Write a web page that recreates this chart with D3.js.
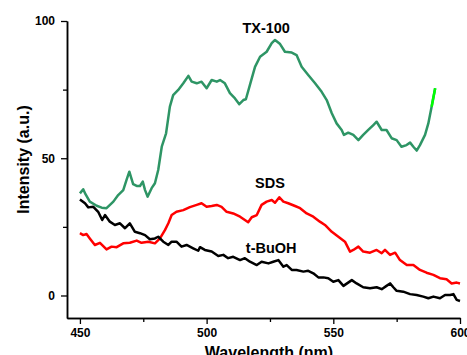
<!DOCTYPE html>
<html>
<head>
<meta charset="utf-8">
<script src="https://cdn.jsdelivr.net/npm/d3@7"></script>
<style>
  body { margin: 0; background: #fff; }
  svg text { font-family: "Liberation Sans", Arial, sans-serif; font-weight: bold; }
</style>
</head>
<body>
<div id="chart"></div>
<script>
// wavelength (nm), intensity (a.u.) pairs
const tx100 = [
  [450, 37.2], [451.3, 38.7], [452.2, 36.9], [453.9, 34.2], [456.6, 32.7], [458.6, 32.0],
  [460.5, 31.8], [463.2, 34.2], [465.1, 36.6], [467.1, 38.4], [468.4, 42.1], [469.5, 45.1],
  [471, 40.6], [472.4, 39.9], [473.7, 39.9], [474.8, 41.5], [475.7, 38.4], [476.7, 36.0],
  [478.3, 39.1], [479.6, 40.9], [480.9, 45.7], [482.3, 54.2], [484, 59.1], [485.5, 68.8],
  [486.8, 73.0], [488.8, 74.9], [490.8, 77.3], [492.8, 80.0], [494.1, 77.9], [496.1, 77.3],
  [498, 77.9], [500, 75.5], [502, 78.5], [504, 77.9], [505.3, 78.5], [507.2, 77.3],
  [509.2, 73.7], [511.2, 71.8], [512.9, 69.7], [514.5, 71.2], [515.5, 71.5], [517.1, 76.7],
  [519.1, 83.3], [521.1, 87.0], [523.7, 88.8], [525.7, 91.9], [527, 93.1], [529, 91.6],
  [530.9, 88.8], [533.6, 88.5], [535.5, 87.6], [537.5, 83.3], [540.1, 80.3], [542.8, 77.3],
  [545.4, 74.2], [547.4, 71.2], [549.4, 66.4], [551.3, 62.7], [553.3, 60.3], [554.2, 58.5],
  [555.9, 59.3], [557.9, 58.5], [559.9, 56.6], [561.8, 58.5], [563.8, 60.3], [565.8, 62.1],
  [567.1, 63.3], [569.1, 60.3], [571, 60.3], [573, 57.3], [575, 56.6], [576.9, 54.2],
  [578.9, 54.8], [580.3, 55.7], [581.6, 54.2], [582.9, 52.8], [584.2, 54.8], [586.2, 58.5],
  [587.5, 62.7], [588.8, 68.8], [590.2, 75.5]
]

const sds = [
  [450, 22.7], [451.3, 22.0], [452.6, 22.4], [453.9, 20.8], [455.9, 18.4], [457.9, 19.2],
  [460.5, 16.8], [462.5, 17.8], [464.5, 17.6], [467.1, 19.0], [469.7, 19.2], [472.4, 20.0],
  [474.3, 19.2], [477, 19.6], [479.6, 19.0], [481.6, 20.8], [483.6, 23.9], [484.9, 26.3],
  [486.2, 29.3], [488.1, 30.5], [490.8, 31.1], [493.4, 32.2], [496.1, 33.0], [498, 33.6],
  [500, 32.3], [502, 32.6], [504, 33.0], [505.9, 32.3], [507.9, 30.5], [510.5, 29.9],
  [513.2, 28.7], [515.1, 27.5], [516.4, 26.7], [517.8, 28.5], [519.8, 29.3], [521.7, 33.0],
  [523.7, 34.2], [525.7, 34.8], [527, 33.8], [528.7, 35.8], [530.3, 34.2], [532.2, 33.6],
  [534.9, 32.6], [536.9, 31.8], [539.5, 29.9], [542.1, 28.7], [544.7, 26.9], [546.7, 25.7],
  [549.4, 23.2], [552, 21.4], [554.6, 19.6], [556.6, 16.0], [557.9, 16.6], [559.9, 17.8],
  [561.8, 16.0], [564.5, 15.6], [567.1, 16.6], [569.1, 15.4], [570.4, 16.6], [572.4, 14.8],
  [574.4, 15.6], [576.3, 12.9], [579, 11.1], [581.6, 11.1], [584.2, 9.3], [586.8, 8.3],
  [589.5, 7.5], [592.1, 6.3], [594.7, 5.9], [596.7, 4.4], [598.7, 4.7], [600, 4.4]
]

const tbuoh = [
  [450, 35.0], [452, 33.6], [453.3, 32.1], [455.3, 32.3], [457.2, 30.5], [458.8, 27.5],
  [459.9, 29.3], [461.8, 26.9], [463.8, 25.7], [465.8, 26.3], [467.8, 24.5], [469.7, 26.3],
  [471.7, 23.2], [473.7, 22.7], [475.7, 22.0], [477.6, 20.5], [479.6, 20.8], [480.9, 21.4],
  [482.9, 19.6], [484.9, 18.4], [486.2, 19.6], [488.1, 19.6], [490.1, 17.8], [492.1, 18.4],
  [494.7, 17.2], [496.7, 16.3], [497.4, 17.6], [499.3, 16.6], [502, 16.0], [504.6, 14.4],
  [506.6, 14.8], [508.5, 13.6], [510.5, 14.1], [513.2, 12.9], [515.1, 13.6], [517.1, 12.3],
  [519.8, 11.1], [521.7, 12.3], [524.4, 11.7], [526.3, 12.3], [528.3, 12.9], [530.3, 10.5],
  [531.6, 11.1], [533.6, 9.3], [535.5, 9.3], [538.2, 8.7], [540.1, 9.0], [542.1, 8.1],
  [544.1, 6.6], [546.1, 6.6], [548, 6.3], [550, 5.0], [552, 5.6], [554, 3.5],
  [557.3, 5.6], [559.2, 4.4], [561.8, 3.0], [564.5, 2.6], [567.1, 3.0], [569.1, 2.3],
  [571, 3.5], [572.4, 4.4], [573.7, 3.0], [575, 1.7], [577.6, 1.4], [580.3, 0.5],
  [582.9, 0.2], [585.5, -0.4], [587.5, -1.0], [589.5, -0.4], [592.1, -1.0], [594.1, 0.2],
  [596.1, 0.2], [597.4, 0.5], [598.7, -1.6], [600, -2.0]
]

const xTicks = [450, 500, 550, 600]
const xMinor = [475, 525, 575]
const yTicks = [0, 50, 100]
const yMinor = [25, 75]

// series label text and where it sits (data coords)
const seriesLabels = [
  { text: "TX-100", x: 523.5, y: 95.5 },
  { text: "SDS", x: 525, y: 39 },
  { text: "t-BuOH", x: 525.5, y: 15.6 }
]

const width = 467, height = 355

const svg = d3.select("#chart").append("svg")
  .attr("width", width)
  .attr("height", height)

const x = d3.scaleLinear().domain([444.9, 600]).range([67, 460])
const y = d3.scaleLinear().domain([-8.2, 100]).range([318, 21])

const line = d3.line().x(d => x(d[0])).y(d => y(d[1]))

// axes: major ticks with labels, minor ticks without
const xAxis = svg.append("g").attr("transform", `translate(0,${y.range()[0]})`)
xAxis.call(d3.axisBottom(x).tickValues(xTicks).tickSize(6).tickPadding(4).tickSizeOuter(0))
svg.append("g").attr("transform", `translate(0,${y.range()[0]})`)
  .call(d3.axisBottom(x).tickValues(xMinor).tickSize(4).tickFormat("").tickSizeOuter(0))

const yAxis = svg.append("g").attr("transform", `translate(${x.range()[0]},0)`)
yAxis.call(d3.axisLeft(y).tickValues(yTicks).tickSize(6).tickPadding(6).tickSizeOuter(0))
svg.append("g").attr("transform", `translate(${x.range()[0]},0)`)
  .call(d3.axisLeft(y).tickValues(yMinor).tickSize(4).tickFormat("").tickSizeOuter(0))

svg.selectAll(".domain").attr("stroke", "#000").attr("stroke-width", 1.5)
svg.selectAll(".tick line").attr("stroke", "#000").attr("stroke-width", 1.3)
svg.selectAll(".tick text")
  .attr("fill", "#000")
  .style("font-size", "12px")
  .style("font-weight", "bold")
  .style("font-family", "'Liberation Sans', Arial, sans-serif")

// curves
const curves = [
  { data: sds, color: "#ff0000" },
  { data: tbuoh, color: "#000000" },
  { data: tx100, color: "#2e9565" }
]
svg.selectAll("path.curve")
  .data(curves)
  .join("path")
  .attr("class", "curve")
  .attr("d", d => line(d.data))
  .attr("fill", "none")
  .attr("stroke", d => d.color)
  .attr("stroke-width", 2.5)
  .attr("stroke-linejoin", "round")

// bright tip at the end of TX-100 trace
svg.append("path")
  .attr("d", line(tx100.slice(-2)))
  .attr("fill", "none")
  .attr("stroke", "#00ff00")
  .attr("stroke-width", 2.5)

svg.selectAll("text.series")
  .data(seriesLabels)
  .join("text")
  .attr("class", "series")
  .attr("x", d => x(d.x))
  .attr("y", d => y(d.y))
  .attr("text-anchor", "middle")
  .style("font-size", "14.5px")
  .text(d => d.text)

// axis titles
svg.append("text")
  .attr("transform", `translate(29,${(y.range()[0] + y.range()[1]) / 2 - 10}) rotate(-90)`)
  .attr("text-anchor", "middle")
  .style("font-size", "16px")
  .text("Intensity (a.u.)")

svg.append("text")
  .attr("x", 269)
  .attr("y", 358)
  .attr("text-anchor", "middle")
  .style("font-size", "16px")
  .text("Wavelength (nm)")
</script>
</body>
</html>
